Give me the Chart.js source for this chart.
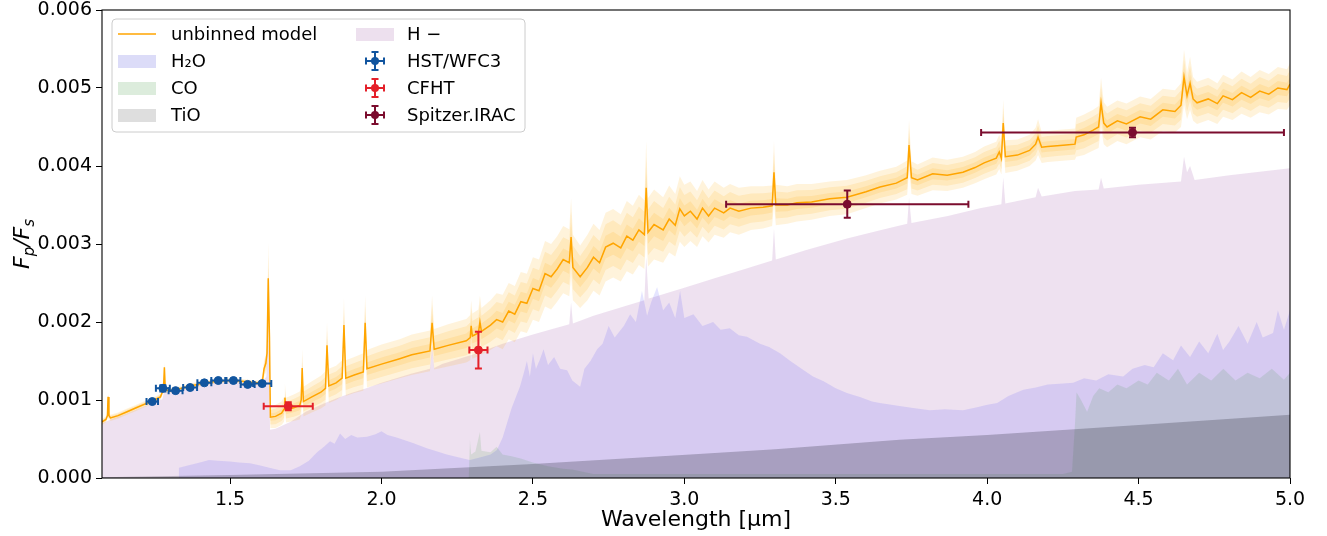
<!DOCTYPE html>
<html>
<head>
<meta charset="utf-8">
<script src="https://cdn.jsdelivr.net/npm/chart.js@4.4.1/dist/chart.umd.min.js"></script>
<style>
  html, body { margin: 0; padding: 0; background: #fff; }
  canvas { display: block; }
</style>
</head>
<body>
<canvas id="spectrum" width="1327" height="536"></canvas>
<script>
// ---- values ----
// model spectrum (wavelength in micron, Fp/Fs, outer band half-width)
const modelWave = [
  1.077, 1.090, 1.095, 1.097, 1.100, 1.105, 1.130, 1.160, 1.190, 1.220,
  1.250, 1.270, 1.276, 1.280, 1.283, 1.286, 1.300, 1.340, 1.380, 1.420,
  1.460, 1.500, 1.540, 1.580, 1.600, 1.607, 1.612, 1.618, 1.622, 1.626,
  1.630, 1.633, 1.650, 1.670, 1.678, 1.681, 1.685, 1.710, 1.730, 1.735,
  1.738, 1.742, 1.770, 1.800, 1.815, 1.820, 1.826, 1.850, 1.870, 1.876,
  1.882, 1.910, 1.940, 1.946, 1.952, 2.000, 2.060, 2.100, 2.160, 2.167,
  2.174, 2.220, 2.280, 2.293, 2.296, 2.300, 2.320, 2.325, 2.330, 2.360,
  2.380, 2.400, 2.420, 2.440, 2.460, 2.480, 2.500, 2.520, 2.540, 2.560,
  2.580, 2.600, 2.620, 2.626, 2.632, 2.656, 2.680, 2.700, 2.720, 2.740,
  2.765, 2.790, 2.810, 2.830, 2.850, 2.868, 2.874, 2.880, 2.900, 2.930,
  2.950, 2.970, 2.985, 3.000, 3.020, 3.042, 3.060, 3.080, 3.100, 3.130,
  3.151, 3.180, 3.220, 3.260, 3.290, 3.296, 3.302, 3.340, 3.372, 3.420,
  3.480, 3.537, 3.600, 3.646, 3.700, 3.736, 3.742, 3.750, 3.770, 3.820,
  3.868, 3.920, 3.960, 3.990, 4.030, 4.040, 4.047, 4.053, 4.060, 4.100,
  4.140, 4.160, 4.168, 4.180, 4.200, 4.231, 4.260, 4.290, 4.294, 4.320,
  4.350, 4.368, 4.376, 4.385, 4.396, 4.430, 4.460, 4.505, 4.540, 4.580,
  4.620, 4.640, 4.650, 4.660, 4.670, 4.680, 4.693, 4.730, 4.760, 4.779,
  4.810, 4.840, 4.870, 4.900, 4.930, 4.960, 4.990, 5.000
];
const modelFlux = [
  0.00072, 0.00075, 0.00080, 0.00104, 0.00080, 0.00077, 0.00080, 0.00085, 0.00090, 0.00095,
  0.00100, 0.00104, 0.00110, 0.00113, 0.00142, 0.00113, 0.00112, 0.00115, 0.00119, 0.00122,
  0.00124, 0.00125, 0.00124, 0.00122, 0.00122, 0.00125, 0.00140, 0.00147, 0.00160, 0.00256,
  0.00180, 0.00078, 0.00079, 0.00083, 0.00088, 0.00103, 0.00087, 0.00090, 0.00093, 0.00100,
  0.00141, 0.00098, 0.00104, 0.00110, 0.00115, 0.00170, 0.00118, 0.00122, 0.00128, 0.00196,
  0.00128, 0.00132, 0.00136, 0.00199, 0.00140, 0.00146, 0.00153, 0.00158, 0.00163, 0.00199,
  0.00165, 0.00170, 0.00176, 0.00180, 0.00195, 0.00182, 0.00186, 0.00200, 0.00188, 0.00196,
  0.00203, 0.00200, 0.00214, 0.00210, 0.00226, 0.00224, 0.00243, 0.00240, 0.00262, 0.00258,
  0.00268, 0.00280, 0.00276, 0.00309, 0.00270, 0.00258, 0.00270, 0.00283, 0.00276, 0.00296,
  0.00301, 0.00295, 0.00310, 0.00305, 0.00318, 0.00312, 0.00372, 0.00315, 0.00325, 0.00318,
  0.00332, 0.00324, 0.00345, 0.00336, 0.00342, 0.00332, 0.00346, 0.00336, 0.00346, 0.00340,
  0.00346, 0.00342, 0.00346, 0.00347, 0.00349, 0.00392, 0.00350, 0.00350, 0.00353, 0.00354,
  0.00358, 0.00360, 0.00367, 0.00373, 0.00378, 0.00385, 0.00427, 0.00385, 0.00382, 0.00390,
  0.00388, 0.00392, 0.00398, 0.00404, 0.00410, 0.00418, 0.00410, 0.00455, 0.00412, 0.00414,
  0.00420, 0.00428, 0.00437, 0.00424, 0.00425, 0.00426, 0.00427, 0.00428, 0.00437, 0.00440,
  0.00446, 0.00450, 0.00481, 0.00455, 0.00450, 0.00458, 0.00454, 0.00463, 0.00460, 0.00472,
  0.00470, 0.00478, 0.00514, 0.00490, 0.00506, 0.00486, 0.00481, 0.00486, 0.00480, 0.00490,
  0.00485, 0.00494, 0.00488, 0.00496, 0.00492, 0.00500, 0.00498, 0.00505
];
const modelErr = [
  0.00004, 0.00004, 0.00004, 0.00006, 0.00004, 0.00004, 0.00004, 0.00004, 0.00004, 0.00004,
  0.00004, 0.00004, 0.00004, 0.00004, 0.00006, 0.00004, 0.00003, 0.00003, 0.00003, 0.00003,
  0.00003, 0.00003, 0.00003, 0.00003, 0.00004, 0.00006, 0.00010, 0.00012, 0.00020, 0.00047,
  0.00030, 0.00014, 0.00015, 0.00015, 0.00016, 0.00018, 0.00016, 0.00017, 0.00018, 0.00019,
  0.00025, 0.00019, 0.00020, 0.00021, 0.00022, 0.00030, 0.00022, 0.00022, 0.00023, 0.00035,
  0.00023, 0.00023, 0.00024, 0.00035, 0.00024, 0.00025, 0.00025, 0.00026, 0.00026, 0.00035,
  0.00026, 0.00027, 0.00028, 0.00029, 0.00033, 0.00029, 0.00030, 0.00034, 0.00030, 0.00032,
  0.00034, 0.00035, 0.00036, 0.00036, 0.00038, 0.00038, 0.00040, 0.00040, 0.00042, 0.00042,
  0.00042, 0.00043, 0.00043, 0.00050, 0.00042, 0.00040, 0.00042, 0.00043, 0.00042, 0.00044,
  0.00044, 0.00043, 0.00045, 0.00044, 0.00045, 0.00044, 0.00060, 0.00044, 0.00045, 0.00042,
  0.00043, 0.00040, 0.00042, 0.00040, 0.00038, 0.00036, 0.00036, 0.00034, 0.00034, 0.00032,
  0.00031, 0.00030, 0.00028, 0.00027, 0.00026, 0.00040, 0.00026, 0.00024, 0.00024, 0.00023,
  0.00022, 0.00022, 0.00021, 0.00021, 0.00021, 0.00022, 0.00032, 0.00021, 0.00020, 0.00021,
  0.00020, 0.00020, 0.00020, 0.00021, 0.00021, 0.00022, 0.00021, 0.00030, 0.00021, 0.00020,
  0.00020, 0.00021, 0.00023, 0.00020, 0.00020, 0.00020, 0.00020, 0.00020, 0.00025, 0.00026,
  0.00026, 0.00027, 0.00032, 0.00027, 0.00026, 0.00026, 0.00026, 0.00026, 0.00026, 0.00027,
  0.00027, 0.00028, 0.00035, 0.00030, 0.00034, 0.00028, 0.00027, 0.00027, 0.00026, 0.00027,
  0.00026, 0.00027, 0.00026, 0.00027, 0.00026, 0.00027, 0.00026, 0.00027
];

// H- contribution
const hminWave = [
  1.077, 1.100, 1.150, 1.200, 1.250, 1.276, 1.282, 1.300, 1.350, 1.400,
  1.450, 1.500, 1.550, 1.600, 1.620, 1.626, 1.632, 1.650, 1.700, 1.750,
  1.800, 1.850, 1.900, 1.950, 2.000, 2.100, 2.160, 2.167, 2.174, 2.200,
  2.300, 2.400, 2.500, 2.620, 2.626, 2.632, 2.700, 2.800, 2.868, 2.874,
  2.882, 2.900, 3.000, 3.100, 3.200, 3.290, 3.296, 3.302, 3.400, 3.537,
  3.650, 3.736, 3.742, 3.750, 3.870, 3.980, 4.047, 4.053, 4.060, 4.160,
  4.168, 4.180, 4.290, 4.368, 4.376, 4.385, 4.500, 4.640, 4.650, 4.660,
  4.670, 4.685, 4.800, 5.000
];
const hminFlux = [
  0.00070, 0.00074, 0.00081, 0.00089, 0.00097, 0.00101, 0.00110, 0.00110, 0.00114, 0.00119,
  0.00122, 0.00123, 0.00122, 0.00120, 0.00130, 0.00200, 0.00062, 0.00063, 0.00072, 0.00085,
  0.00094, 0.00102, 0.00109, 0.00115, 0.00122, 0.00134, 0.00140, 0.00170, 0.00141, 0.00146,
  0.00158, 0.00172, 0.00184, 0.00197, 0.00225, 0.00198, 0.00208, 0.00220, 0.00228, 0.00283,
  0.00230, 0.00232, 0.00244, 0.00256, 0.00268, 0.00279, 0.00320, 0.00280, 0.00292, 0.00307,
  0.00318, 0.00326, 0.00359, 0.00327, 0.00336, 0.00346, 0.00351, 0.00385, 0.00352, 0.00360,
  0.00372, 0.00361, 0.00368, 0.00370, 0.00385, 0.00371, 0.00376, 0.00380, 0.00412, 0.00392,
  0.00400, 0.00382, 0.00388, 0.00397
];

// H2O contribution
const h2oWave = [
  1.077, 1.328, 1.331, 1.360, 1.400, 1.430, 1.460, 1.500, 1.530, 1.566,
  1.600, 1.630, 1.665, 1.700, 1.730, 1.760, 1.787, 1.810, 1.830, 1.845,
  1.863, 1.880, 1.900, 1.920, 1.952, 1.980, 2.000, 2.020, 2.050, 2.104,
  2.150, 2.216, 2.260, 2.292, 2.330, 2.360, 2.381, 2.400, 2.414, 2.430,
  2.445, 2.457, 2.470, 2.480, 2.490, 2.500, 2.510, 2.523, 2.535, 2.550,
  2.570, 2.590, 2.613, 2.630, 2.656, 2.670, 2.690, 2.712, 2.730, 2.750,
  2.770, 2.800, 2.821, 2.840, 2.860, 2.877, 2.890, 2.910, 2.930, 2.950,
  2.970, 2.986, 3.000, 3.030, 3.060, 3.095, 3.120, 3.150, 3.180, 3.207,
  3.250, 3.280, 3.316, 3.350, 3.380, 3.425, 3.460, 3.500, 3.537, 3.580,
  3.620, 3.646, 3.700, 3.750, 3.811, 3.860, 3.920, 3.970, 4.000, 4.033,
  4.070, 4.119, 4.160, 4.200, 4.250, 4.284, 4.320, 4.360, 4.400, 4.449,
  4.480, 4.520, 4.550, 4.580, 4.614, 4.640, 4.670, 4.700, 4.730, 4.760,
  4.779, 4.800, 4.830, 4.860, 4.890, 4.910, 4.944, 4.960, 4.980, 5.000
];
const h2oFlux = [
  0.00000, 0.00000, 0.00013, 0.00016, 0.00020, 0.00023, 0.00022, 0.00021, 0.00020, 0.00019,
  0.00016, 0.00013, 0.00010, 0.00010, 0.00015, 0.00022, 0.00033, 0.00040, 0.00047, 0.00044,
  0.00057, 0.00050, 0.00055, 0.00052, 0.00053, 0.00056, 0.00060, 0.00055, 0.00052, 0.00045,
  0.00038, 0.00030, 0.00026, 0.00023, 0.00027, 0.00030, 0.00036, 0.00052, 0.00070, 0.00090,
  0.00105, 0.00117, 0.00135, 0.00150, 0.00130, 0.00160, 0.00140, 0.00152, 0.00165, 0.00145,
  0.00155, 0.00140, 0.00138, 0.00125, 0.00117, 0.00140, 0.00150, 0.00165, 0.00172, 0.00195,
  0.00180, 0.00195, 0.00210, 0.00200, 0.00240, 0.00208, 0.00225, 0.00245, 0.00215, 0.00225,
  0.00205, 0.00240, 0.00205, 0.00210, 0.00195, 0.00200, 0.00190, 0.00192, 0.00183, 0.00181,
  0.00172, 0.00168, 0.00160, 0.00150, 0.00142, 0.00130, 0.00124, 0.00115, 0.00109, 0.00104,
  0.00098, 0.00096, 0.00093, 0.00090, 0.00087, 0.00088, 0.00087, 0.00091, 0.00094, 0.00096,
  0.00105, 0.00113, 0.00116, 0.00120, 0.00121, 0.00122, 0.00128, 0.00125, 0.00133, 0.00130,
  0.00140, 0.00145, 0.00142, 0.00160, 0.00151, 0.00170, 0.00155, 0.00175, 0.00160, 0.00185,
  0.00164, 0.00175, 0.00195, 0.00172, 0.00200, 0.00180, 0.00186, 0.00215, 0.00190, 0.00215
];

// CO contribution
const coWave = [
  1.077, 2.288, 2.292, 2.296, 2.310, 2.325, 2.330, 2.360, 2.380, 2.400,
  2.430, 2.460, 2.500, 2.550, 2.600, 2.630, 2.700, 4.250, 4.280, 4.290,
  4.295, 4.310, 4.330, 4.350, 4.370, 4.400, 4.430, 4.460, 4.500, 4.530,
  4.560, 4.600, 4.630, 4.660, 4.700, 4.740, 4.780, 4.820, 4.860, 4.900,
  4.940, 4.980, 5.000
];
const coFlux = [
  0.00000, 0.00000, 0.00049, 0.00030, 0.00034, 0.00059, 0.00035, 0.00033, 0.00040, 0.00030,
  0.00028, 0.00025, 0.00020, 0.00015, 0.00012, 0.00011, 0.00005, 0.00005, 0.00008, 0.00070,
  0.00110, 0.00100, 0.00085, 0.00105, 0.00115, 0.00110, 0.00120, 0.00115, 0.00125, 0.00120,
  0.00135, 0.00125, 0.00140, 0.00120, 0.00135, 0.00125, 0.00140, 0.00125, 0.00135, 0.00128,
  0.00140, 0.00126, 0.00135
];

// TiO contribution
const tioWave = [1.077, 1.500, 2.000, 2.193, 2.500, 3.020, 3.300, 3.710, 4.000, 4.500, 5.000];
const tioFlux = [0.00001, 0.00004, 0.00008, 0.00012, 0.00018, 0.00030, 0.00037, 0.00049, 0.00055, 0.00068, 0.00081];

// observations
const hstWave = [1.243, 1.278, 1.320, 1.368, 1.415, 1.461, 1.511, 1.558, 1.606];
const hstFlux = [0.00098, 0.00115, 0.00112, 0.00116, 0.00122, 0.00125, 0.00125, 0.00120, 0.00121];
const hstWaveErr = [0.019, 0.023, 0.023, 0.023, 0.023, 0.023, 0.023, 0.023, 0.030];
const hstFluxErr = [0.00002, 0.00004, 0.00002, 0.00002, 0.00002, 0.00002, 0.00002, 0.00002, 0.00002];

const cfhtWave = [1.692, 2.320];
const cfhtFlux = [0.00092, 0.00164];
const cfhtWaveErr = [0.081, 0.030];
const cfhtFluxErr = [0.00005, 0.000235];

const spitzerWave = [3.538, 4.480];
const spitzerFlux = [0.00351, 0.00443];
const spitzerWaveErr = [0.400, 0.500];
const spitzerFluxErr = [0.000175, 0.00006];

const xTicks = [1.5, 2.0, 2.5, 3.0, 3.5, 4.0, 4.5, 5.0];
const yTicks = [0, 0.001, 0.002, 0.003, 0.004, 0.005, 0.006];

// ---- chart ----
const FONT = 'DejaVu Sans';
Chart.defaults.font.family = FONT;
Chart.defaults.color = '#000';

function xy(xs, ys) {
  return xs.map((x, i) => ({ x: x, y: ys[i] }));
}

function area(label, xs, ys, color, legendColor, order) {
  return {
    label: label, data: xy(xs, ys), fill: 'origin', backgroundColor: color,
    legendColor: legendColor, borderWidth: 0, pointRadius: 0, order: order
  };
}

function points(label, xs, ys, ex, ey, color) {
  return {
    label: label, data: xy(xs, ys), errX: ex, errY: ey, showLine: false,
    pointRadius: 4, pointBackgroundColor: color, pointBorderColor: color,
    borderColor: color, backgroundColor: color, order: 1
  };
}

const datasets = [];
datasets.push({
  label: 'unbinned model', data: xy(modelWave, modelFlux), borderColor: '#ffa500',
  borderWidth: 1.5, pointRadius: 0, fill: false, order: 2
});
// nested uncertainty bands of the model
[1, 2 / 3, 1 / 3].forEach(f => {
  datasets.push({
    label: 'band', data: modelWave.map((x, i) => ({ x: x, y: modelFlux[i] + f * modelErr[i] })),
    fill: '+1', backgroundColor: 'rgba(255,170,0,0.14)', borderWidth: 0, pointRadius: 0, order: 3
  });
  datasets.push({
    label: 'band', data: modelWave.map((x, i) => ({ x: x, y: modelFlux[i] - f * modelErr[i] })),
    fill: false, borderWidth: 0, pointRadius: 0, order: 3
  });
});
datasets.push(area('TiO', tioWave, tioFlux, 'rgba(60,60,75,0.30)', '#dedede', 4));
datasets.push(area('CO', coWave, coFlux, 'rgba(0,128,0,0.10)', '#dcecdc', 5));
datasets.push(area('H\u2082O', h2oWave, h2oFlux, 'rgba(0,0,255,0.10)', '#dcdcf8', 6));
datasets.push(area('H \u2212', hminWave, hminFlux, 'rgba(160,90,170,0.18)', '#ede0ee', 7));
datasets.push(points('HST/WFC3', hstWave, hstFlux, hstWaveErr, hstFluxErr, '#11559f'));
datasets.push(points('CFHT', cfhtWave, cfhtFlux, cfhtWaveErr, cfhtFluxErr, '#e4202a'));
datasets.push(points('Spitzer.IRAC', spitzerWave, spitzerFlux, spitzerWaveErr, spitzerFluxErr, '#7b0c2e'));

const errorBars = {
  id: 'errorBars',
  beforeDatasetDraw(chart, args) {
    const ds = chart.data.datasets[args.index];
    if (!ds.errX) return;
    const sx = chart.scales.x, sy = chart.scales.y, ctx = chart.ctx;
    ctx.save();
    ctx.strokeStyle = ds.borderColor;
    ctx.lineWidth = 2;
    ds.data.forEach((p, i) => {
      const px = sx.getPixelForValue(p.x), py = sy.getPixelForValue(p.y);
      const x0 = sx.getPixelForValue(p.x - ds.errX[i]), x1 = sx.getPixelForValue(p.x + ds.errX[i]);
      const y0 = sy.getPixelForValue(p.y - ds.errY[i]), y1 = sy.getPixelForValue(p.y + ds.errY[i]);
      ctx.beginPath();
      ctx.moveTo(x0, py); ctx.lineTo(x1, py);
      ctx.moveTo(px, y0); ctx.lineTo(px, y1);
      ctx.moveTo(x0, py - 3.5); ctx.lineTo(x0, py + 3.5);
      ctx.moveTo(x1, py - 3.5); ctx.lineTo(x1, py + 3.5);
      ctx.moveTo(px - 3.5, y0); ctx.lineTo(px + 3.5, y0);
      ctx.moveTo(px - 3.5, y1); ctx.lineTo(px + 3.5, y1);
      ctx.stroke();
    });
    ctx.restore();
  }
};

const frameAndLabels = {
  id: 'frameAndLabels',
  afterDraw(chart) {
    const ctx = chart.ctx, a = chart.chartArea;
    ctx.save();
    // frame
    ctx.strokeStyle = '#000';
    ctx.lineWidth = 1.1;
    ctx.strokeRect(a.left, a.top, a.right - a.left, a.bottom - a.top);

    // y axis title  F_p / F_s
    const big = 'italic 22px ' + FONT, small = 'italic 15px ' + FONT;
    const parts = [['F', big, 0], ['p', small, 5], ['/', big, 0], ['F', big, 0], ['s', small, 5]];
    let total = 0;
    parts.forEach(p => { ctx.font = p[1]; total += ctx.measureText(p[0]).width; });
    ctx.translate(22, (a.top + a.bottom) / 2);
    ctx.rotate(-Math.PI / 2);
    ctx.fillStyle = '#000';
    ctx.textBaseline = 'alphabetic';
    let cx = -total / 2;
    parts.forEach(p => {
      ctx.font = p[1];
      ctx.fillText(p[0], cx, 7 + p[2]);
      cx += ctx.measureText(p[0]).width;
    });
    ctx.restore();

    // legend box
    ctx.save();
    const lx = 112, ly = 19, lw = 413, lh = 113, r = 4;
    ctx.beginPath();
    ctx.moveTo(lx + r, ly);
    ctx.arcTo(lx + lw, ly, lx + lw, ly + lh, r);
    ctx.arcTo(lx + lw, ly + lh, lx, ly + lh, r);
    ctx.arcTo(lx, ly + lh, lx, ly, r);
    ctx.arcTo(lx, ly, lx + lw, ly, r);
    ctx.closePath();
    ctx.fillStyle = 'rgba(255,255,255,0.8)';
    ctx.fill();
    ctx.strokeStyle = '#cccccc';
    ctx.lineWidth = 1;
    ctx.stroke();

    const ds = chart.data.datasets;
    const byLabel = l => ds.find(d => d.label === l);
    const entries = [
      ['unbinned model', 'line', 0, 0], ['H\u2082O', 'patch', 0, 1], ['CO', 'patch', 0, 2], ['TiO', 'patch', 0, 3],
      ['H \u2212', 'patch', 1, 0], ['HST/WFC3', 'err', 1, 1], ['CFHT', 'err', 1, 2], ['Spitzer.IRAC', 'err', 1, 3]
    ];
    const rowY = [34, 61, 88, 115];
    const handleX = [118, 356], textX = [171, 407];
    ctx.font = '18px ' + FONT;
    ctx.textBaseline = 'middle';
    entries.forEach(e => {
      const d = byLabel(e[0]);
      const y = rowY[e[3]], hx = handleX[e[2]];
      if (e[1] === 'line') {
        ctx.strokeStyle = d.borderColor;
        ctx.lineWidth = 1.5;
        ctx.beginPath(); ctx.moveTo(hx, y); ctx.lineTo(hx + 38, y); ctx.stroke();
      } else if (e[1] === 'patch') {
        ctx.fillStyle = d.legendColor;
        ctx.fillRect(hx, y - 6, 38, 13);
      } else {
        const c = hx + 19;
        ctx.strokeStyle = d.borderColor;
        ctx.lineWidth = 2;
        ctx.beginPath();
        ctx.moveTo(c - 9, y); ctx.lineTo(c + 9, y);
        ctx.moveTo(c, y - 9); ctx.lineTo(c, y + 9);
        ctx.moveTo(c - 9, y - 3.5); ctx.lineTo(c - 9, y + 3.5);
        ctx.moveTo(c + 9, y - 3.5); ctx.lineTo(c + 9, y + 3.5);
        ctx.moveTo(c - 3.5, y - 9); ctx.lineTo(c + 3.5, y - 9);
        ctx.moveTo(c - 3.5, y + 9); ctx.lineTo(c + 3.5, y + 9);
        ctx.stroke();
        ctx.fillStyle = d.borderColor;
        ctx.beginPath(); ctx.arc(c, y, 4, 0, Math.PI * 2); ctx.fill();
      }
      ctx.fillStyle = '#000';
      ctx.fillText(e[0], textX[e[2]], y + 1);
    });
    ctx.restore();
  }
};

new Chart(document.getElementById('spectrum').getContext('2d'), {
  type: 'line',
  data: { datasets: datasets },
  plugins: [errorBars, frameAndLabels],
  options: {
    responsive: false,
    animation: false,
    devicePixelRatio: 1,
    events: [],
    layout: { padding: { left: 0, right: 37, top: 10, bottom: 0 } },
    plugins: { legend: { display: false }, tooltip: { enabled: false } },
    scales: {
      x: {
        type: 'linear', min: 1.077, max: 5.0,
        afterBuildTicks: s => { s.ticks = xTicks.map(v => ({ value: v })); },
        afterFit: s => { s.height = 58; s.paddingLeft = 0; s.paddingRight = 0; },
        ticks: { font: { size: 19 }, padding: 5, maxRotation: 0, callback: v => v.toFixed(1) },
        grid: { drawOnChartArea: false, tickLength: 6, color: '#000' },
        border: { display: false },
        title: { display: true, text: 'Wavelength [\u00b5m]', font: { size: 22 }, padding: { top: 4, bottom: 3 } }
      },
      y: {
        type: 'linear', min: 0, max: 0.006,
        afterBuildTicks: s => { s.ticks = yTicks.map(v => ({ value: v })); },
        afterFit: s => { s.width = 102; s.paddingTop = 0; s.paddingBottom = 0; },
        ticks: { font: { size: 19 }, padding: 4, callback: v => v.toFixed(3) },
        grid: { drawOnChartArea: false, tickLength: 6, color: '#000' },
        border: { display: false }
      }
    }
  }
});
</script>
</body>
</html>
